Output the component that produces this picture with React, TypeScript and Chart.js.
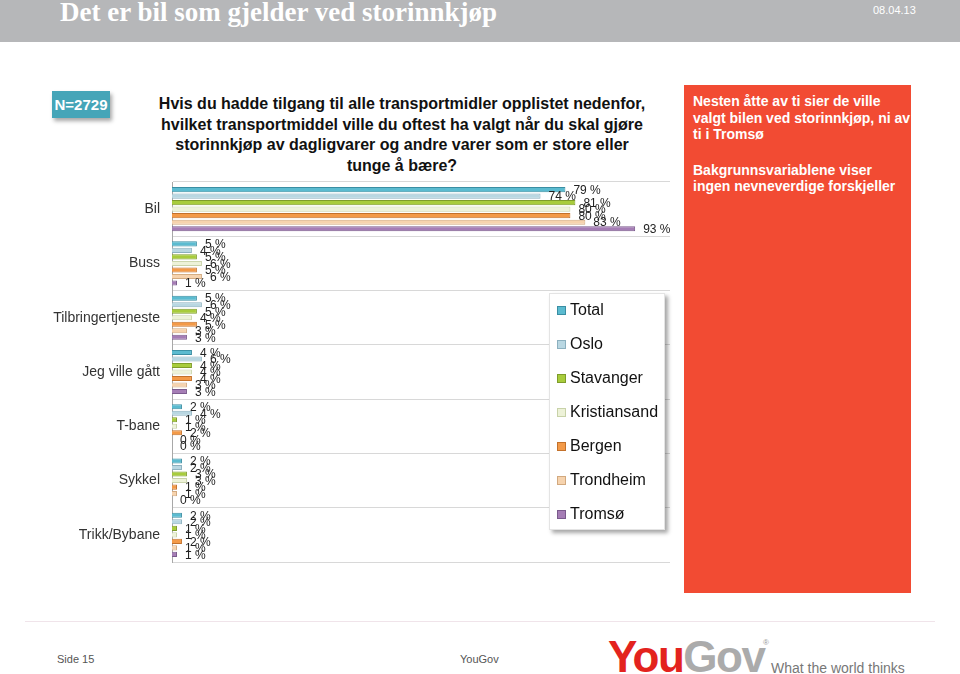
import React, { useEffect, useRef } from "react";
import { Chart, registerables } from "chart.js";

Chart.register(...registerables);

const categories = ["Bil", "Buss", "Tilbringertjeneste", "Jeg ville gått", "T-bane", "Sykkel", "Trikk/Bybane"];
const seriesNames = ["Total", "Oslo", "Stavanger", "Kristiansand", "Bergen", "Trondheim", "Tromsø"];
const total = [79, 5, 5, 4, 2, 2, 2];
const oslo = [74, 4, 6, 6, 4, 2, 2];
const stavanger = [81, 5, 5, 4, 1, 3, 1];
const kristiansand = [80, 6, 4, 4, 1, 3, 1];
const bergen = [80, 5, 5, 4, 2, 1, 2];
const trondheim = [83, 6, 3, 3, 0, 1, 1];
const tromso = [93, 1, 3, 3, 0, 0, 1];

const fills = ["#5BBBD0", "#B9D7E2", "#A8CC3C", "#EDF2D8", "#F39A48", "#F6D3AE", "#A57DB5"];
const borders = ["#3A8EA3", "#8CB0BF", "#7E9C2A", "#C8D2A8", "#C3712B", "#D2A97F", "#7A5A8C"];

const valueLabelPlugin = {
  id: "valueLabels",
  afterDatasetsDraw(chart: any) {
    const ctx = chart.ctx;
    ctx.save();
    ctx.font = "12px 'Liberation Sans', Arial, sans-serif";
    ctx.fillStyle = "#222";
    ctx.textBaseline = "middle";
    ctx.textAlign = "left";
    chart.data.datasets.forEach((ds: any, di: number) => {
      const meta = chart.getDatasetMeta(di);
      meta.data.forEach((bar: any, i: number) => {
        ctx.fillText(ds.data[i] + " %", bar.x + 8, bar.y + 1);
      });
    });
    ctx.restore();
  },
};

export default function App() {
  const ref = useRef<HTMLCanvasElement>(null);
  useEffect(() => {
    const seriesData = [total, oslo, stavanger, kristiansand, bergen, trondheim, tromso];
    const chart = new Chart(ref.current as HTMLCanvasElement, {
      type: "bar",
      data: {
        labels: categories,
        datasets: seriesNames.map((name, i) => ({
          label: name,
          data: seriesData[i],
          backgroundColor: fills[i],
          borderColor: borders[i],
          borderWidth: 1,
          categoryPercentage: 0.84,
          barPercentage: 0.78,
        })),
      },
      options: {
        indexAxis: "y",
        animation: false,
        responsive: false,
        maintainAspectRatio: false,
        layout: { padding: { top: 12, bottom: 18, right: 30, left: 0 } },
        plugins: {
          legend: { display: false },
          tooltip: { enabled: false },
          title: { display: false },
        },
        scales: {
          x: { display: false, min: 0, max: 100 },
          y: {
            afterFit(scale: any) {
              scale.width = 172;
              scale.paddingTop = 0;
              scale.paddingBottom = 0;
            },
            grid: { display: true, color: "#D8D8D8", drawTicks: false, offset: true },
            border: { display: true, color: "#A8A8A8" },
            ticks: {
              padding: 12,
              color: "#333",
              font: { family: "'Liberation Sans', Arial, sans-serif", size: 14 },
            },
          },
        },
      },
      plugins: [valueLabelPlugin],
    } as any);
    return () => chart.destroy();
  }, []);

  const sans = "'Liberation Sans', Arial, sans-serif";

  return (
    <div style={{ position: "absolute", left: 0, top: 0, width: 960, height: 674, background: "#fff", overflow: "hidden", fontFamily: sans }}>
      <div style={{ position: "absolute", left: 0, top: 0, width: 960, height: 42, background: "#B6B7B9" }} />
      <div style={{ position: "absolute", left: 60, top: -3, height: 30, lineHeight: "30px", fontFamily: "'Liberation Serif', 'Times New Roman', serif", fontWeight: "bold", fontSize: 27, color: "#fff", whiteSpace: "nowrap" }}>
        Det er bil som gjelder ved storinnkjøp
      </div>
      <div style={{ position: "absolute", left: 873, top: 4, fontSize: 11, color: "#fff", whiteSpace: "nowrap" }}>08.04.13</div>

      <div style={{ position: "absolute", left: 52, top: 91, width: 58, height: 27, background: "#45A5B8", boxShadow: "2px 3px 4px rgba(0,0,0,0.35)", color: "#fff", fontWeight: "bold", fontSize: 15, lineHeight: "27px", textAlign: "center" }}>
        N=2729
      </div>

      <div style={{ position: "absolute", left: 152, top: 94, width: 500, textAlign: "center", fontWeight: "bold", fontSize: 16, lineHeight: "20.5px", color: "#111", whiteSpace: "nowrap" }}>
        Hvis du hadde tilgang til alle transportmidler opplistet nedenfor,<br />
        hvilket transportmiddel ville du oftest ha valgt når du skal gjøre<br />
        storinnkjøp av dagligvarer og andre varer som er store eller<br />
        tunge å bære?
      </div>

      <canvas ref={ref} width={700} height={410} style={{ position: "absolute", left: 0, top: 170, width: 700, height: 410 }} />

      <div style={{ position: "absolute", left: 549, top: 293, width: 116, height: 237, background: "#fff", boxShadow: "3px 3px 4px rgba(0,0,0,0.35)", border: "1px solid #E4E4E4", boxSizing: "border-box" }}>
        {seriesNames.map((name, i) => (
          <div key={name} style={{ position: "absolute", left: 7, top: 5 + i * 34, height: 22, display: "flex", alignItems: "center", whiteSpace: "nowrap" }}>
            <span style={{ display: "inline-block", width: 7, height: 7, background: fills[i], border: "1px solid " + borders[i], marginRight: 4 }} />
            <span style={{ fontSize: 16, color: "#111" }}>{name}</span>
          </div>
        ))}
      </div>

      <div style={{ position: "absolute", left: 684, top: 85, width: 227, height: 508, background: "#F24B33" }}>
        <div style={{ position: "absolute", left: 9, top: 8, width: 218, color: "#fff", fontWeight: "bold", fontSize: 14, lineHeight: "16.5px", whiteSpace: "nowrap" }}>
          Nesten åtte av ti sier de ville<br />
          valgt bilen ved storinnkjøp, ni av<br />
          ti i Tromsø
          <div style={{ height: 19 }} />
          Bakgrunnsvariablene viser<br />
          ingen nevneverdige forskjeller
        </div>
      </div>

      <div style={{ position: "absolute", left: 25, top: 621, width: 910, height: 1, background: "#F0E4EA" }} />
      <div style={{ position: "absolute", left: 57, top: 653, fontSize: 11, color: "#555" }}>Side 15</div>
      <div style={{ position: "absolute", left: 460, top: 653, fontSize: 11, color: "#555" }}>YouGov</div>
      <div style={{ position: "absolute", left: 608, top: 635, height: 44, lineHeight: "44px", fontWeight: "bold", fontSize: 44, letterSpacing: -1.5, whiteSpace: "nowrap" }}>
        <span style={{ color: "#E3231E" }}>You</span>
        <span style={{ color: "#ABABAB" }}>Gov</span>
      </div>
      <div style={{ position: "absolute", left: 763, top: 638, fontSize: 8, color: "#999" }}>®</div>
      <div style={{ position: "absolute", left: 771, top: 660, fontSize: 14, color: "#777", whiteSpace: "nowrap" }}>What the world thinks</div>
    </div>
  );
}
